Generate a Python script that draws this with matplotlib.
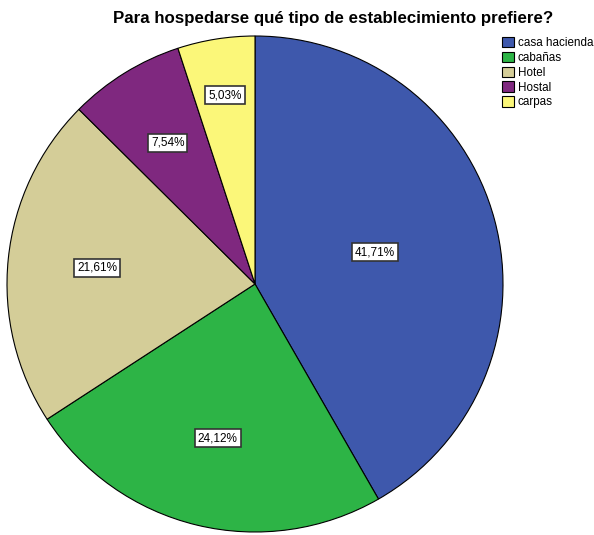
import matplotlib
matplotlib.use("Agg")
import matplotlib.pyplot as plt
from matplotlib.patches import Patch
import numpy as np

categories = ["casa hacienda", "cabañas", "Hotel", "Hostal", "carpas"]
values = [41.71, 24.12, 21.61, 7.54, 5.03]
labels = ["41,71%", "24,12%", "21,61%", "7,54%", "5,03%"]
colors = ["#3E58AC", "#2DB446", "#D4CD98", "#7F287F", "#FBF779"]
label_dist = [0.50, 0.64, 0.64, 0.67, 0.77]

plt.rcParams['font.family'] = ['Liberation Sans', 'DejaVu Sans']

W, H = 594, 535
fig = plt.figure(figsize=(W / 100, H / 100), dpi=100)
cx, cy, r = 255, 284, 248
ax = fig.add_axes([(cx - r) / W, (H - cy - r) / H, 2 * r / W, 2 * r / H])

wedges, _ = ax.pie(values, colors=colors, startangle=90, counterclock=False,
                   wedgeprops=dict(edgecolor="black", linewidth=0.8))
for w, lab, d in zip(wedges, labels, label_dist):
    ang = np.deg2rad((w.theta1 + w.theta2) / 2)
    ax.text(d * np.cos(ang), d * np.sin(ang), lab, ha="center", va="center",
            fontsize=8.5, color="black",
            bbox=dict(boxstyle="square,pad=0.25", facecolor="white",
                      edgecolor="#333333", linewidth=1.2))
ax.set_xlim(-1, 1)
ax.set_ylim(-1, 1)
ax.set_aspect("equal")
ax.axis("off")

fig.text(333 / W, 1 - 19 / H, "Para hospedarse qué tipo de establecimiento prefiere?",
         ha="center", va="center", fontsize=12.2, fontweight="bold")

handles = [Patch(facecolor=c, edgecolor="black", linewidth=0.8) for c in colors]
fig.legend(handles, categories, loc="upper left", bbox_to_anchor=(502 / W, 1 - 37 / H),
           frameon=False, fontsize=8.4, handlelength=1.0, handleheight=1.0,
           handletextpad=0.35, labelspacing=0.22, borderpad=0, borderaxespad=0)

fig.savefig("out.png", dpi=100)
